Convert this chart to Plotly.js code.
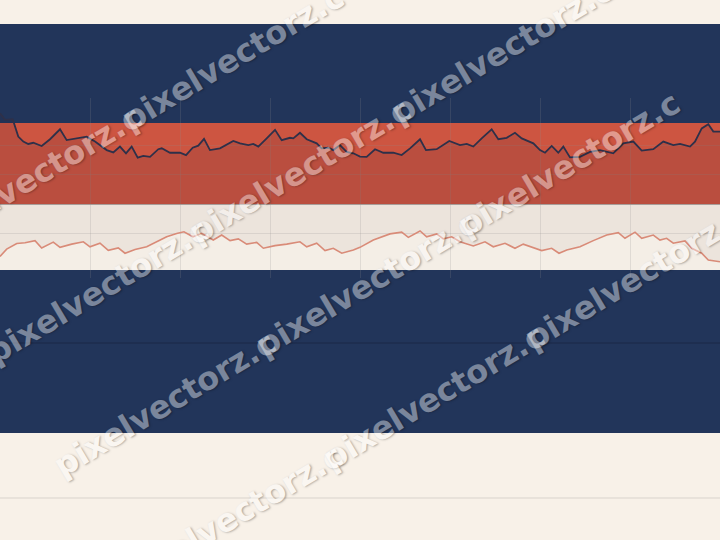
<!DOCTYPE html>
<html>
<head>
<meta charset="utf-8">
<script src="https://cdn.plot.ly/plotly-3.0.1.min.js"></script>
<style>html,body{margin:0;padding:0;background:#f8f1e8;}#chart{width:720px;height:540px;}</style>
</head>
<body>
<div id="chart"></div>
<script>
// ---- data (x in grid units, y in value units; zero = band boundary) ----
const darkX = [0,0.056,0.141,0.203,0.259,0.314,0.37,0.463,0.556,0.667,0.741,0.852,0.963,1.056,1.111,1.186,1.259,1.333,1.4,1.463,1.53,1.592,1.667,1.759,1.797,1.889,2.0,2.067,2.141,2.203,2.267,2.333,2.444,2.592,2.667,2.759,2.814,2.87,2.963,3.056,3.13,3.222,3.259,3.333,3.408,3.519,3.574,3.648,3.703,3.778,3.852,3.926,4.0,4.074,4.167,4.259,4.37,4.463,4.556,4.667,4.733,4.852,4.992,5.111,5.186,5.259,5.352,5.463,5.537,5.63,5.722,5.797,5.926,6.0,6.056,6.13,6.203,6.259,6.333,6.444,6.556,6.667,6.814,6.926,7.037,7.13,7.259,7.37,7.481,7.556,7.667,7.722,7.797,7.87,7.926,8.0];
const darkY = [3.10,2.87,2.89,2.30,2.13,2.05,2.09,1.98,2.21,2.55,2.18,2.24,2.30,2.13,2.01,1.84,1.76,1.96,1.73,1.96,1.58,1.64,1.61,1.87,1.90,1.75,1.75,1.67,1.92,1.99,2.22,1.84,1.90,2.15,2.07,2.01,2.05,1.96,2.24,2.53,2.18,2.26,2.24,2.43,2.21,2.07,1.90,1.92,1.84,2.01,1.78,1.73,1.62,1.61,1.87,1.75,1.75,1.67,1.90,2.21,1.84,1.87,2.15,2.01,2.05,1.96,2.24,2.55,2.21,2.26,2.43,2.24,2.07,1.84,1.75,1.98,1.75,1.96,1.59,1.61,1.78,1.84,1.73,2.07,2.13,1.82,1.87,2.13,2.01,2.05,1.96,2.13,2.58,2.72,2.47,2.47];
const pinkX = [0,0.074,0.186,0.278,0.389,0.463,0.592,0.667,0.797,0.926,1.0,1.111,1.203,1.314,1.389,1.5,1.63,1.741,1.852,1.963,2.044,2.144,2.241,2.37,2.463,2.556,2.648,2.741,2.852,2.926,3.056,3.186,3.333,3.408,3.519,3.611,3.703,3.797,3.926,4.0,4.148,4.333,4.463,4.537,4.667,4.741,4.852,4.926,5.019,5.111,5.259,5.389,5.481,5.611,5.722,5.814,5.926,6.019,6.13,6.211,6.297,6.444,6.592,6.741,6.87,6.944,7.056,7.13,7.259,7.333,7.407,7.481,7.611,7.686,7.797,7.87,8.0];
const pinkY = [-1.79,-1.54,-1.35,-1.32,-1.25,-1.50,-1.30,-1.48,-1.37,-1.29,-1.46,-1.34,-1.58,-1.50,-1.68,-1.55,-1.46,-1.29,-1.12,-1.01,-0.95,-1.12,-1.00,-1.23,-1.06,-1.25,-1.19,-1.37,-1.31,-1.51,-1.42,-1.37,-1.29,-1.46,-1.34,-1.59,-1.51,-1.68,-1.57,-1.48,-1.23,-1.02,-0.96,-1.14,-0.92,-1.12,-1.02,-1.19,-1.12,-1.29,-1.43,-1.29,-1.46,-1.34,-1.51,-1.37,-1.49,-1.59,-1.51,-1.68,-1.57,-1.46,-1.25,-1.06,-0.98,-1.17,-0.96,-1.17,-1.06,-1.23,-1.17,-1.34,-1.26,-1.51,-1.68,-1.91,-1.97];
const gridVals = [-1, 0, 1, 2];
const watermarkText = "pixelvectorz.c";

// ---- layout helpers (pixel -> paper fractions) ----
const W = 720, H = 540;
const py = p => 1 - p / H;
const px = p => p / W;

const traces = [
  { x: darkX, y: darkY, type: 'scatter', mode: 'lines', fill: 'tozeroy',
    fillcolor: 'rgba(47,36,48,0.12)', line: { color: '#2e3049', width: 1.8 }, hoverinfo: 'skip' },
  { x: pinkX, y: pinkY, type: 'scatter', mode: 'lines', fill: 'tozeroy',
    fillcolor: 'rgba(164,149,141,0.10)', line: { color: '#d98b78', width: 1.6 }, hoverinfo: 'skip' }
];

function rect(y0, y1, color) {
  return { type: 'rect', xref: 'paper', yref: 'paper', x0: 0, x1: 1, y0: py(y1), y1: py(y0),
           fillcolor: color, line: { width: 0 }, layer: 'below' };
}
function hline(y, color) {
  return { type: 'line', xref: 'paper', yref: 'paper', x0: 0, x1: 1, y0: py(y), y1: py(y),
           line: { color: color, width: 1 }, layer: 'below' };
}
const shapes = [
  rect(24, 123, '#22355a'),
  rect(123, 204, '#cd5541'),
  rect(204, 270, '#f4eee6'),
  rect(270, 433, '#22355a'),
  hline(343, '#1a2946'),
  hline(498, '#d9d3cc')
];

// watermark rows: start point (pixels) and number of repeats
const ang = 30.7 * Math.PI / 180;
const step = 235;
const rows = [[-69, 242, 2], [-2, 355, 3], [65, 468, 3], [132, 581, 3]];
const annotations = [];
rows.forEach(([sx, sy, n]) => {
  for (let k = 0; k < n; k++) {
    const cx = sx + 100 + k * step * Math.cos(ang);
    const cy = sy - 64 - k * step * Math.sin(ang);
    annotations.push({
      text: watermarkText, xref: 'paper', yref: 'paper', x: px(cx), y: py(cy),
      xanchor: 'center', yanchor: 'middle', showarrow: false, textangle: -30.7,
      opacity: 0.4,
      font: { family: 'DejaVu Sans', size: 32, weight: 'bold', color: '#ffffff',
              shadow: '1px 1px 2px rgba(0,0,0,0.75)' }
    });
  }
});

const layout = {
  width: W, height: H,
  margin: { l: 0, r: 0, t: 0, b: 0, pad: 0 },
  paper_bgcolor: '#f8f1e8',
  plot_bgcolor: 'rgba(0,0,0,0)',
  showlegend: false,
  xaxis: { range: [0, 8], domain: [0, 1], tick0: 0, dtick: 1, showticklabels: false,
           ticks: '', showline: false, zeroline: false, gridcolor: 'rgba(140,140,140,0.2)', gridwidth: 1 },
  yaxis: { domain: [py(278), py(98)], range: [-74 / 29.3, 106 / 29.3], tickmode: 'array', tickvals: gridVals,
           showticklabels: false, ticks: '', showline: false, zeroline: true,
           zerolinecolor: 'rgba(150,140,138,0.8)', zerolinewidth: 1,
           gridcolor: 'rgba(140,140,140,0.2)', gridwidth: 1 },
  shapes: shapes,
  annotations: annotations
};

Plotly.newPlot('chart', traces, layout, { staticPlot: true, displayModeBar: false });
</script>
</body>
</html>
